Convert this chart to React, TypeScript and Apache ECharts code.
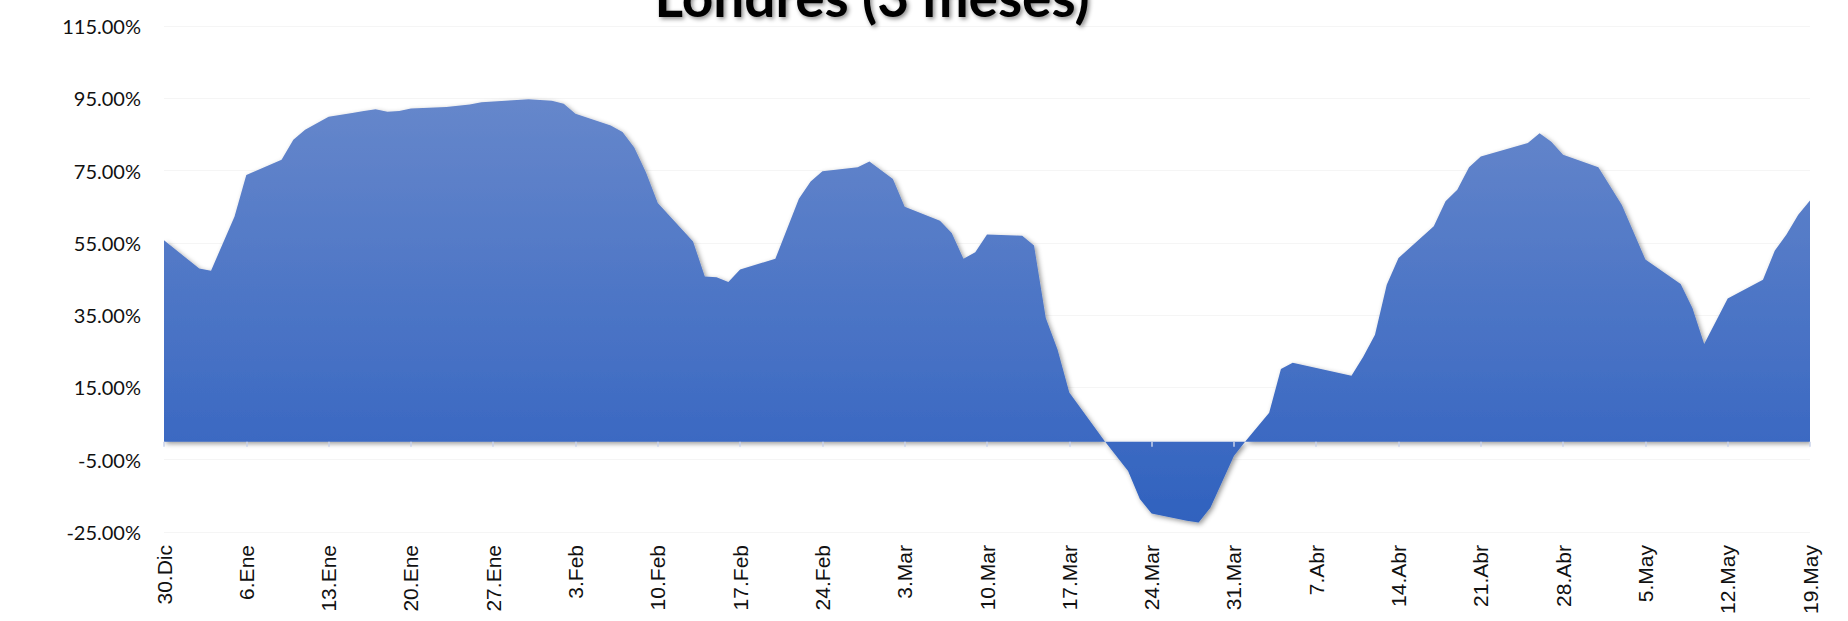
import React, { useEffect, useRef } from 'react';
import * as echarts from 'echarts';

const TITLE = 'Londres (3 meses)';

// Tick labels, one per week (Mondays), from 30 Dec to 19 May
const WEEK_LABELS = [
  '30.Dic', '6.Ene', '13.Ene', '20.Ene', '27.Ene', '3.Feb', '10.Feb', '17.Feb',
  '24.Feb', '3.Mar', '10.Mar', '17.Mar', '24.Mar', '31.Mar', '7.Abr', '14.Abr',
  '21.Abr', '28.Abr', '5.May', '12.May', '19.May',
];

// Day offsets (days after 30 Dec) of the points
const DAY_INDEX = [
  0, 3, 4, 6, 7, 10, 11, 12, 14, 16, 17, 18, 19, 20, 21, 24, 26, 27, 31, 33,
  34, 35, 38, 39, 40, 41, 42, 45, 46, 47, 48, 49, 52, 54, 55, 56, 59, 60, 62, 63,
  66, 67, 68, 69, 70, 73, 74, 75, 76, 77, 80, 82, 83, 84, 87, 88, 89, 91, 92, 94,
  95, 96, 101, 102, 103, 104, 105, 108, 109, 110, 111, 112, 116, 117, 118, 119, 122, 124, 126, 129,
  130, 131, 133, 136, 137, 138, 139, 140,
];

// Values in percent
const VALUES = [
  55.7, 47.9, 47.3, 62.3, 73.8, 78.0, 83.5, 86.3, 89.9, 90.9, 91.5, 92.0, 91.3, 91.5, 92.2, 92.6, 93.3, 93.9, 94.7, 94.3,
  93.5, 90.7, 87.5, 85.7, 81.4, 74.5, 66.0, 55.4, 45.7, 45.5, 44.2, 47.6, 50.6, 67.2, 72.0, 74.8, 75.9, 77.5, 72.7, 65.0,
  61.1, 57.7, 50.6, 52.4, 57.3, 57.0, 54.3, 34.2, 25.5, 13.6, 0.2, -8.1, -15.9, -19.9, -21.9, -22.4, -18.3, -4.0, 0.2, 8.0,
  20.1, 21.8, 18.2, 23.5, 29.6, 43.4, 50.8, 59.6, 66.5, 69.7, 75.9, 78.9, 82.6, 85.3, 83.0, 79.4, 75.9, 65.5, 50.4, 43.6,
  37.0, 27.0, 39.6, 44.8, 52.8, 57.3, 62.8, 66.7,
];

const Y_MIN = -25;
const Y_MAX = 115;
const Y_STEP = 20;
const X_MAX = (WEEK_LABELS.length - 1) * 7;

export default function App() {
  const ref = useRef<HTMLDivElement>(null);

  useEffect(() => {
    if (!ref.current) return;
    const chart = echarts.init(ref.current, undefined, { renderer: 'svg' });

    const axisColor = '#c9d2ea';

    chart.setOption({
      animation: false,
      backgroundColor: '#ffffff',
      graphic: [
        {
          type: 'text',
          x: 872,
          y: -4,
          z: 10,
          style: {
            text: TITLE,
            fontFamily: 'Lato',
            fontWeight: 'bold',
            fontSize: 55,
            fill: '#000000',
            textAlign: 'center',
            align: 'center',
            textVerticalAlign: 'middle',
            verticalAlign: 'middle',
            textShadowColor: 'rgba(0,0,0,0.45)',
            textShadowBlur: 4,
            textShadowOffsetX: 2,
            textShadowOffsetY: 2,
          },
        },
      ],
      grid: {
        left: 164,
        right: 38,
        top: 26,
        bottom: 89,
        containLabel: false,
      },
      xAxis: [
        {
          type: 'value',
          min: 0,
          max: X_MAX,
          interval: 7,
          z: 10,
          axisLine: {
            show: true,
            onZero: true,
            lineStyle: {
              color: axisColor,
              width: 2,
              shadowColor: 'rgba(0,0,0,0.35)',
              shadowBlur: 3,
              shadowOffsetY: 2,
            },
          },
          axisTick: {
            show: true,
            length: 5,
            lineStyle: { color: axisColor, width: 1.5 },
          },
          axisLabel: { show: false },
          splitLine: { show: false },
        },
        {
          type: 'value',
          position: 'bottom',
          min: 0,
          max: X_MAX,
          interval: 7,
          axisLine: { show: false, onZero: false },
          axisTick: { show: false },
          splitLine: { show: false },
          axisLabel: {
            show: true,
            rotate: 90,
            margin: 13,
            fontFamily: 'Liberation Sans',
            fontSize: 21,
            color: '#111111',
            formatter: (v: number) => WEEK_LABELS[Math.round(v / 7)] ?? '',
          },
        },
      ],
      yAxis: {
        type: 'value',
        min: Y_MIN,
        max: Y_MAX,
        interval: Y_STEP,
        axisLine: { show: false },
        axisTick: { show: false },
        splitLine: { show: true, lineStyle: { color: '#f5f5f5', width: 1 } },
        axisLabel: {
          margin: 23,
          fontFamily: 'Lato',
          fontSize: 20,
          color: '#111111',
          formatter: (v: number) => v.toFixed(2) + '%',
        },
      },
      series: [
        {
          type: 'line',
          xAxisIndex: 0,
          data: DAY_INDEX.map((d, i) => [d, VALUES[i]]),
          symbol: 'none',
          showSymbol: false,
          lineStyle: { width: 0 },
          z: 2,
          areaStyle: {
            opacity: 1,
            color: new echarts.graphic.LinearGradient(0, 0, 0, 1, [
              { offset: 0, color: '#6687cb' },
              { offset: 0.81, color: '#3b69c2' },
              { offset: 1, color: '#3062be' },
            ]),
            shadowColor: 'rgba(0,0,0,0.4)',
            shadowBlur: 5,
            shadowOffsetX: 2,
            shadowOffsetY: 2,
          },
        },
      ],
    });

    return () => chart.dispose();
  }, []);

  return (
    <div
      ref={ref}
      style={{ position: 'absolute', left: 0, top: 0, width: 1848, height: 621 }}
    />
  );
}
